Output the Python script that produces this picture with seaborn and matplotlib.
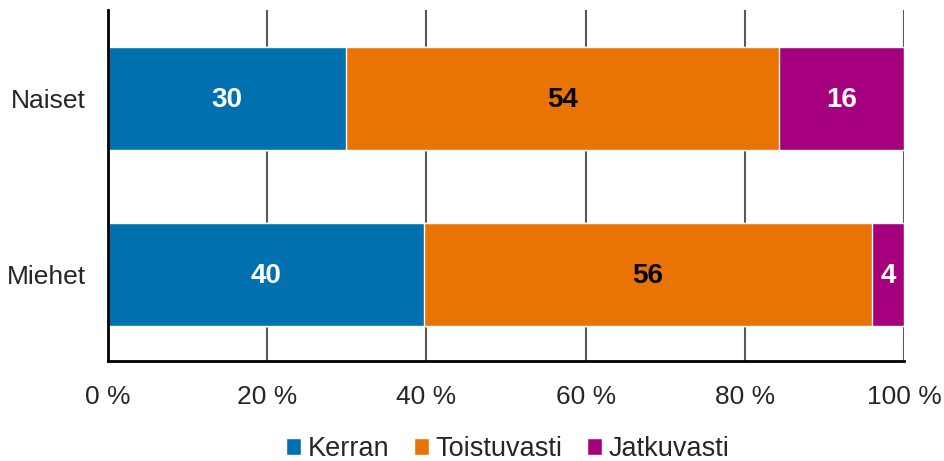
import pandas as pd
import numpy as np
import matplotlib
matplotlib.use("Agg")
import matplotlib.pyplot as plt
import seaborn as sns
from matplotlib.patches import Patch

# Data (share of respondents, %)
groups = ['Naiset', 'Miehet']
series = ['Kerran', 'Toistuvasti', 'Jatkuvasti']
kerran = [29.9, 39.7]
toistuvasti = [54.4, 56.3]
jatkuvasti = [15.7, 4.0]
xticks = [0, 20, 40, 60, 80, 100]
xtick_labels = ['0 %', '20 %', '40 %', '60 %', '80 %', '100 %']

colors = ['#0070AF', '#E97404', '#A6007E']
label_colors = ['white', 'black', 'white']

sns.set_style('white')
plt.rcParams['font.family'] = ['Liberation Sans', 'DejaVu Sans']

df = pd.DataFrame({'group': groups, 'Kerran': kerran,
                   'Toistuvasti': toistuvasti, 'Jatkuvasti': jatkuvasti})
cum = df[series].cumsum(axis=1)

fig = plt.figure(figsize=(9.44, 4.61), dpi=100)
ax = fig.add_axes([108 / 944, 1 - 361 / 461, 796 / 944, 351 / 461])

# stacked bars: draw the cumulative totals from the largest down
for i in range(len(series) - 1, -1, -1):
    sns.barplot(x=cum[series[i]], y=df['group'], color=colors[i], orient='h',
                width=0.585, edgecolor='white', linewidth=1, saturation=1, ax=ax)

# value labels
for j in range(len(groups)):
    start = 0
    for i, s in enumerate(series):
        v = df.loc[j, s]
        ax.text(start + v / 2, j + 0.01, f'{round(v):.0f}', ha='center', va='center',
                color=label_colors[i], fontsize=20, fontweight='bold')
        start += v

ax.set_xlim(0, 100)
ax.set_ylim(1.491, -0.503)
ax.set_xticks(xticks)
ax.set_xticklabels(xtick_labels, fontsize=19)
ax.tick_params(axis='y', labelsize=19, length=0, pad=16)
ax.tick_params(axis='x', length=0, pad=17)
ax.set_xlabel('')
ax.set_ylabel('')

ax.grid(False)
for x in xticks[1:]:
    ax.axvline(x, color='#595959', linewidth=1.5, zorder=0)
ax.set_axisbelow(True)

for side in ['top', 'right']:
    ax.spines[side].set_visible(False)
for side in ['left', 'bottom']:
    ax.spines[side].set_color('black')
    ax.spines[side].set_linewidth(2)

handles = [Patch(facecolor=c, label=s) for c, s in zip(colors, series)]
fig.legend(handles=handles, loc='center', bbox_to_anchor=(508 / 944, 1 - 449 / 461),
           ncol=3, frameon=False, fontsize=19.5, handlelength=0.55, handleheight=0.55,
           handletextpad=0.25, columnspacing=0.9, borderpad=0)

fig.savefig('out.png', dpi=100)
